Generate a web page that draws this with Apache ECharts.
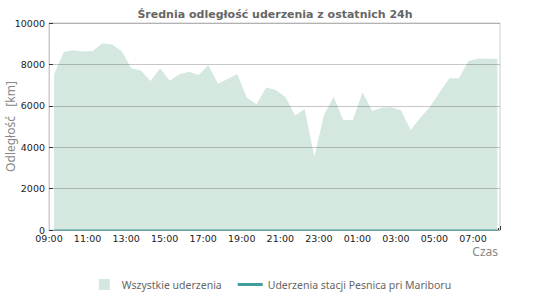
<!DOCTYPE html>
<html>
<head>
<meta charset="utf-8">
<script src="https://cdn.jsdelivr.net/npm/echarts@6/dist/echarts.min.js"></script>
<style>
html,body{margin:0;padding:0;background:#fff;}
#chart{width:550px;height:300px;}
</style>
</head>
<body>
<div id="chart"></div>
<script>
// ---- data ----
const titleText = 'Średnia odległość uderzenia z ostatnich 24h';
const seriesNames = ['Wszystkie uderzenia', 'Uderzenia stacji Pesnica pri Mariboru'];
const times = ['09:16','09:46','10:16','10:46','11:16','11:46','12:16','12:46','13:16','13:46',
  '14:16','14:46','15:16','15:46','16:16','16:46','17:16','17:46','18:16','18:46',
  '19:16','19:46','20:16','20:46','21:16','21:46','22:16','22:46','23:16','23:46',
  '00:16','00:46','01:16','01:46','02:16','02:46','03:16','03:46','04:16','04:46',
  '05:16','05:46','06:16','06:46','07:16','07:46','08:16'];
const allStrikes = [7520,8600,8680,8620,8650,9020,8960,8650,7810,7700,
  7200,7810,7210,7530,7650,7490,7970,7060,7300,7520,
  6400,6070,6890,6760,6420,5530,5840,3540,5560,6440,
  5310,5310,6650,5750,5900,5930,5770,4830,5420,5960,
  6650,7330,7330,8160,8290,8270,8260];
const stationStrikes = [0,0,0,0,0,0,0,0,0,0,
  0,0,0,0,0,0,0,0,0,0,
  0,0,0,0,0,0,0,0,0,0,
  0,0,0,0,0,0,0,0,0,0,
  0,0,0,0,0,0,0];
const axisStart = '09:00';
const axisEnd = '08:24';
const yTicks = [0, 2000, 4000, 6000, 8000, 10000];

// ---- helpers ----
function toMin(t) {
  const [h, m] = t.split(':').map(Number);
  const s = axisStart.split(':').map(Number);
  let d = (h * 60 + m) - (s[0] * 60 + s[1]);
  if (d < 0) d += 1440;
  return d;
}
function fmt(v) {
  const s = axisStart.split(':').map(Number);
  let tot = (s[0] * 60 + s[1] + v) % 1440;
  const h = Math.floor(tot / 60), m = tot % 60;
  return String(h).padStart(2, '0') + ':' + String(m).padStart(2, '0');
}
const xs = times.map(toMin);

const chart = echarts.init(document.getElementById('chart'), null, {renderer: 'svg'});
chart.setOption({
  animation: false,
  backgroundColor: '#fff',
  title: {
    text: titleText,
    left: 'center',
    top: 4,
    textStyle: {fontFamily: 'DejaVu Sans', fontWeight: 'bold', fontSize: 11, color: '#666'}
  },
  grid: {left: 49, right: 50, top: 23, bottom: 70, containLabel: false, outerBoundsMode: 'none',
    show: true, borderColor: '#cccccc', borderWidth: 1},
  legend: {
    bottom: 5,
    left: 'center',
    itemWidth: 25,
    itemHeight: 11,
    itemGap: 16,
    textStyle: {fontFamily: 'Noto Sans', fontSize: 10.5, color: '#666'},
    data: [
      {name: seriesNames[0], icon: 'path://M0,0h10v10h-10z'},
      {name: seriesNames[1], icon: 'path://M0,0h17v2h-17z'}
    ]
  },
  xAxis: {
    type: 'value',
    min: 0,
    max: toMin(axisEnd),
    interval: 60,
    axisLine: {show: true, lineStyle: {color: '#cccccc'}},
    axisTick: {show: true, inside: true, length: 4, lineStyle: {color: '#333'}},
    minorTick: {show: true, splitNumber: 3, length: 2, lineStyle: {color: '#333'}},
    splitLine: {show: false},
    axisLabel: {
      showMaxLabel: false,
      margin: 3,
      fontFamily: 'DejaVu Sans', fontSize: 9.5, color: '#222',
      formatter: v => (v % 120 === 0 ? fmt(v) : '')
    }
  },
  yAxis: {
    type: 'value',
    min: yTicks[0],
    max: yTicks[yTicks.length - 1],
    interval: yTicks[1] - yTicks[0],
    z: 3,
    name: 'Odległość   [km]',
    nameLocation: 'middle',
    nameGap: 33,
    nameMoveOverlap: false,
    nameTextStyle: {fontFamily: 'Noto Sans', fontSize: 12, color: '#888'},
    axisLine: {show: true, lineStyle: {color: '#cccccc'}},
    axisTick: {show: true, inside: true, length: 4, lineStyle: {color: '#333'}},
    splitLine: {show: true, lineStyle: {color: 'rgba(0,0,0,0.22)'}},
    axisLabel: {margin: 4, fontFamily: 'DejaVu Sans', fontSize: 9.5, color: '#222',
      formatter: v => String(v)}
  },
  graphic: [{
    type: 'text',
    right: 52,
    top: 245,
    style: {text: 'Czas', fontFamily: 'Noto Sans', fontSize: 12, fill: '#888'}
  }],
  series: [
    {
      name: seriesNames[0],
      type: 'line',
      data: xs.map((x, i) => [x, allStrikes[i]]),
      showSymbol: false,
      color: '#d4e8e0',
      lineStyle: {width: 0},
      areaStyle: {color: '#d4e8e0', opacity: 1},
      z: 1
    },
    {
      name: seriesNames[1],
      type: 'line',
      data: xs.map((x, i) => [x, stationStrikes[i]]),
      showSymbol: false,
      clip: false,
      color: '#3d9c9c',
      lineStyle: {width: 1.2, color: '#3d9c9c'},
      z: 5
    }
  ]
});
</script>
</body>
</html>
